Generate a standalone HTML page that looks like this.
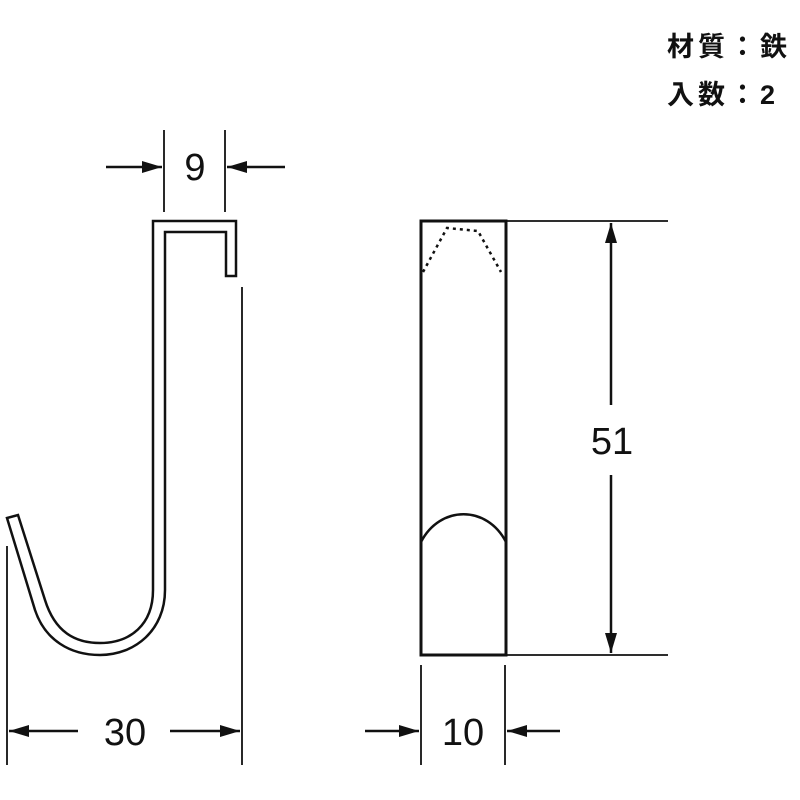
<!DOCTYPE html>
<html><head><meta charset="utf-8"><style>
body{margin:0;background:#fff}
svg{display:block}
text{font-family:"Liberation Sans","Noto Sans CJK JP",sans-serif;fill:#111}
</style></head><body>
<svg width="800" height="800" viewBox="0 0 800 800" xmlns="http://www.w3.org/2000/svg">
<defs>
<marker id="a" viewBox="0 0 20 12" refX="20" refY="6" markerWidth="20" markerHeight="12" markerUnits="userSpaceOnUse" orient="auto"><path d="M0,0L20,6L0,12z" fill="#111"/></marker>
</defs>
<text x="667" y="56" font-size="27" letter-spacing="4" font-weight="bold">材質：鉄</text>
<text x="667" y="104" font-size="27" letter-spacing="4" font-weight="bold">入数：2</text>
<g stroke="#111" fill="none" stroke-width="3">
<path d="M236,276 L236,221 L153,221 L153,590 C153,625 130,643 100,643 C75,643 55,632 45,600 L18,515 L7,518 L35,610 C45,640 70,655 100,655 C135,655 165,630 165,590 L165,232 L226,232 L226,276 Z" stroke-width="2.5"/>
<rect x="421" y="221" width="85" height="434"/>
<path d="M421,542 C440,505 487,505 506,542" stroke-width="2.5"/>
<path d="M423,272 L447,228 L478,231 L501,272" stroke-width="2.5" stroke-dasharray="3,4"/>
</g>
<g stroke="#111" stroke-width="1.8" fill="none">
<line x1="164" y1="130" x2="164" y2="212"/>
<line x1="225" y1="130" x2="225" y2="212"/>
<line x1="106" y1="167" x2="162" y2="167" marker-end="url(#a)" stroke-width="2.5"/>
<line x1="285" y1="167" x2="227" y2="167" marker-end="url(#a)" stroke-width="2.5"/>
<line x1="242" y1="287" x2="242" y2="765"/>
<line x1="7" y1="546" x2="7" y2="765"/>
<line x1="78" y1="731" x2="9" y2="731" marker-end="url(#a)" stroke-width="2.5"/>
<line x1="170" y1="731" x2="240" y2="731" marker-end="url(#a)" stroke-width="2.5"/>
<line x1="506" y1="221" x2="668" y2="221"/>
<line x1="506" y1="655" x2="668" y2="655"/>
<line x1="611" y1="405" x2="611" y2="223" marker-end="url(#a)" stroke-width="2.5"/>
<line x1="611" y1="475" x2="611" y2="653" marker-end="url(#a)" stroke-width="2.5"/>
<line x1="421" y1="665" x2="421" y2="765"/>
<line x1="505" y1="665" x2="505" y2="765"/>
<line x1="365" y1="731" x2="419" y2="731" marker-end="url(#a)" stroke-width="2.5"/>
<line x1="560" y1="731" x2="507" y2="731" marker-end="url(#a)" stroke-width="2.5"/>
</g>
<text x="195" y="180" font-size="38" text-anchor="middle">9</text>
<text x="125" y="745" font-size="38" text-anchor="middle">30</text>
<text x="612" y="454" font-size="38" text-anchor="middle">51</text>
<text x="463" y="745" font-size="38" text-anchor="middle">10</text>
</svg>
</body></html>
